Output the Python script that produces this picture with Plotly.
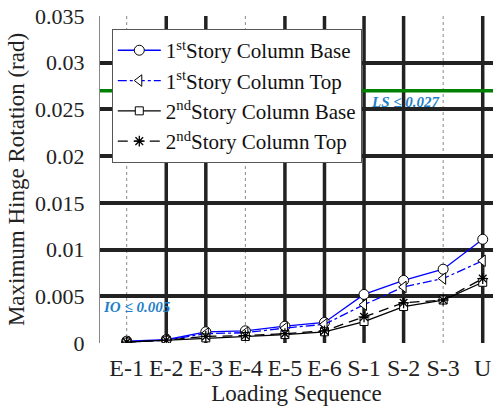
import plotly.graph_objects as go

categories = ["E-1", "E-2", "E-3", "E-4", "E-5", "E-6", "S-1", "S-2", "S-3", "U"]
story1_base = [0.0002, 0.00035, 0.0012, 0.0013, 0.0018, 0.0022, 0.0052, 0.0067, 0.0079, 0.0111]
story1_top = [0.0001, 0.0003, 0.0010, 0.0011, 0.0016, 0.0020, 0.0041, 0.0060, 0.0069, 0.0088]
story2_base = [0.0001, 0.0003, 0.00055, 0.0007, 0.0009, 0.0012, 0.0023, 0.0039, 0.0046, 0.0065]
story2_top = [0.0001, 0.0003, 0.0007, 0.0008, 0.0010, 0.0013, 0.0028, 0.0043, 0.0046, 0.0069]
y_ticks = [0, 0.005, 0.01, 0.015, 0.02, 0.025, 0.03, 0.035]
y_tick_text = ["0", "0.005", "0.01", "0.015", "0.02", "0.025", "0.03", "0.035"]
ls_limit = 0.027
io_limit = 0.005

FONT = "Liberation Serif, Times New Roman, serif"
xi = list(range(len(categories)))

fig = go.Figure()
fig.add_trace(go.Scatter(
    x=xi, y=story1_base, name="1<sup>st</sup>Story Column Base", mode="lines+markers",
    line=dict(color="#0000ff", width=1.3),
    marker=dict(symbol="circle", size=10, color="white", line=dict(color="black", width=1))))
fig.add_trace(go.Scatter(
    x=xi, y=story1_top, name="1<sup>st</sup>Story Column Top", mode="lines+markers",
    line=dict(color="#0000ff", width=1.3, dash="dashdot"),
    marker=dict(symbol="triangle-left", size=10, color="white", line=dict(color="black", width=1))))
fig.add_trace(go.Scatter(
    x=xi, y=story2_base, name="2<sup>nd</sup>Story Column Base", mode="lines+markers",
    line=dict(color="black", width=1.3),
    marker=dict(symbol="square", size=8, color="white", line=dict(color="black", width=1))))
fig.add_trace(go.Scatter(
    x=xi, y=story2_top, name="2<sup>nd</sup>Story Column Top", mode="lines+markers",
    line=dict(color="black", width=1.3, dash="10px,6px"),
    marker=dict(symbol="asterisk-open", size=9, color="black", line=dict(color="black", width=1.3))))

shapes = []
for i in xi:
    if categories[i] in ("E-1", "E-4", "S-3"):
        shapes.append(dict(type="line", xref="x", yref="paper", x0=i, x1=i, y0=0, y1=1,
                           line=dict(color="#888888", width=1, dash="dot"), layer="below"))
    else:
        shapes.append(dict(type="line", xref="x", yref="paper", x0=i, x1=i, y0=0, y1=1,
                           line=dict(color="#222222", width=3.5), layer="below"))
shapes.append(dict(type="line", xref="paper", yref="y", x0=0, x1=1, y0=ls_limit, y1=ls_limit,
                   line=dict(color="#008000", width=3.5), layer="above"))
shapes.append(dict(type="line", xref="paper", yref="y", x0=0, x1=1, y0=io_limit, y1=io_limit,
                   line=dict(color="#008000", width=3.5, dash="13px,13px"), layer="below"))

fig.update_layout(
    width=493, height=408,
    margin=dict(l=100, r=0, t=16, b=65),
    paper_bgcolor="white", plot_bgcolor="white",
    font=dict(family=FONT, size=20, color="#222222"),
    shapes=shapes,
    showlegend=True,
    legend=dict(x=0.03, y=0.96, xanchor="left", yanchor="top",
                bgcolor="white", bordercolor="#555555", borderwidth=1,
                font=dict(family=FONT, size=21, color="#111111"),
                tracegroupgap=0, itemwidth=43),
    xaxis=dict(range=[-0.675, 9.26], tickmode="array", tickvals=xi, ticktext=categories,
               showgrid=False, zeroline=False, showline=False, ticks="",
               ticklabelstandoff=8,
               tickfont=dict(family=FONT, size=24, color="#222222"),
               title=dict(text="Loading Sequence", font=dict(family=FONT, size=23, color="#222222"), standoff=0)),
    yaxis=dict(range=[0, 0.035], tickmode="array", tickvals=y_ticks, ticktext=y_tick_text,
               showgrid=True, gridcolor="#222222", gridwidth=3.5, zeroline=False,
               showline=True, linecolor="#888888", linewidth=1, ticks="",
               ticklabelstandoff=10,
               tickfont=dict(family=FONT, size=22, color="#222222"),
               title=dict(text="Maximum Hinge Rotation (rad)", font=dict(family=FONT, size=23, color="#222222"), standoff=4)),
    annotations=[
        dict(text="<b><i>LS ≤ 0.027</i></b>", xref="paper", yref="y", x=0.685, y=ls_limit,
             xanchor="left", yanchor="top", yshift=-1, showarrow=False,
             font=dict(family=FONT, size=15, color="#1f7fc8")),
        dict(text="<b><i>IO ≤ 0.005</i></b>", xref="paper", yref="y", x=0.003, y=io_limit,
             xanchor="left", yanchor="top", yshift=-1, showarrow=False,
             font=dict(family=FONT, size=15, color="#1f7fc8")),
    ],
)

fig.write_html("out.html")
